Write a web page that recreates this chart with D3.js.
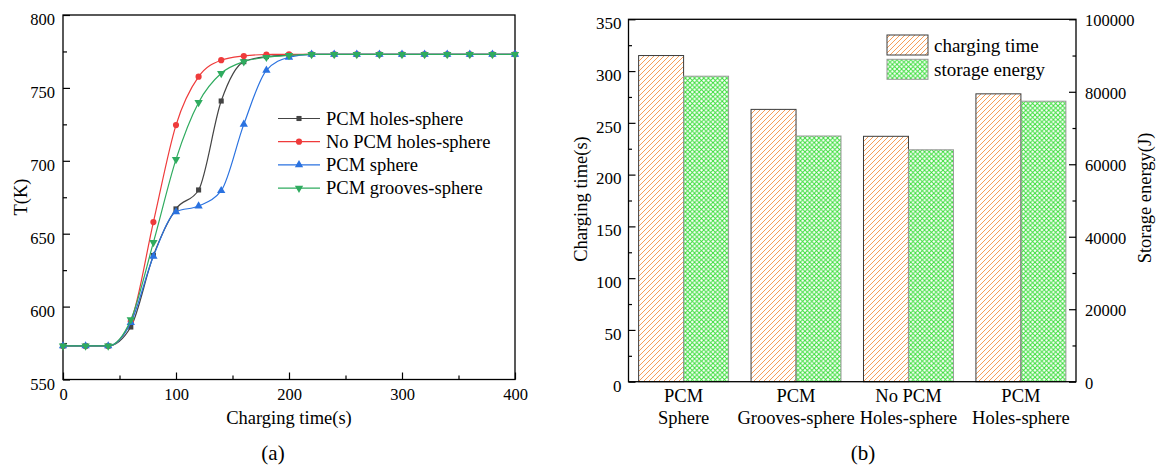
<!DOCTYPE html>
<html><head><meta charset="utf-8">
<script src="https://cdn.jsdelivr.net/npm/d3@7"></script>
<style>
body{margin:0;background:#fff}
svg{font-family:"Liberation Serif","Times New Roman",serif;display:block}
</style>
</head><body>
<svg id="c" width="1156" height="465"></svg>
<script>
// ---------- data: panel (a) ----------
const timeS = [0,20,40,60,80,100,120,140,160,180,200,220,240,260,280,300,320,340,360,380,400];
const pcmHolesSphere   = [573,573,573,586,635,667,680,741,768,771.5,772.5,773,773,773,773,773,773,773,773,773,773];
const noPcmHolesSphere = [573,573,573,590,658,724.5,757.7,769,771.9,772.9,773,773,773,773,773,773,773,773,773,773,773];
const pcmSphere        = [573,573,573,589,634.5,665,669,679.5,725,762,771,773,773,773,773,773,773,773,773,773,773];
const pcmGroovesSphere = [573,573,573,591,644,701,740,760,768,771,772.3,773,773,773,773,773,773,773,773,773,773];
const seriesNames = ["PCM holes-sphere","No PCM holes-sphere","PCM sphere","PCM grooves-sphere"];
const xTicksA = [0,100,200,300,400];
const xMinorA = [50,150,250,350];
const yTicksA = [550,600,650,700,750,800];
const yMinorA = [575,625,675,725,775];

// ---------- data: panel (b) ----------
const catLine1 = ["PCM","PCM","No PCM","PCM"];
const catLine2 = ["Sphere","Grooves-sphere","Holes-sphere","Holes-sphere"];
const chargingTime = [315,263,237,278];
const storageEnergy = [84300,67800,64000,77400];
const yTicksB = [0,50,100,150,200,250,300,350];
const yMinorB = [25,75,125,175,225,275,325];
const eTicksB = [0,20000,40000,60000,80000,100000];
const eMinorB = [10000,30000,50000,70000,90000];
const legendB = ["charging time","storage energy"];

const svg = d3.select("#c");
const defs = svg.append("defs");
defs.append("pattern").attr("id","hatch").attr("patternUnits","userSpaceOnUse")
  .attr("width",5).attr("height",5)
  .append("path").attr("d","M-1,1 l2,-2 M0,5 l5,-5 M4,6 l2,-2")
  .attr("stroke","#f59a50").attr("stroke-width",0.95);
defs.append("pattern").attr("id","cross").attr("patternUnits","userSpaceOnUse")
  .attr("width",4.6).attr("height",4.6)
  .append("path").attr("d","M0,0 L4.6,4.6 M4.6,0 L0,4.6")
  .attr("stroke","#36dc36").attr("stroke-width",0.95);

// ================= Panel (a) =================
const A = {l:63, r:515, t:15, b:379.5};
const xA = d3.scaleLinear([0,400],[A.l,A.r]);
const yA = d3.scaleLinear([550,800],[A.b,A.t]);
const gA = svg.append("g");

gA.append("g").attr("transform",`translate(0,${A.b})`)
  .call(d3.axisBottom(xA).tickValues(xMinorA).tickSizeInner(-4).tickSizeOuter(0).tickFormat(""))
  .call(g=>g.select(".domain").remove());
gA.append("g").attr("transform",`translate(${A.l},0)`)
  .call(d3.axisLeft(yA).tickValues(yMinorA).tickSizeInner(-4).tickSizeOuter(0).tickFormat(""))
  .call(g=>g.select(".domain").remove());
gA.append("g").attr("transform",`translate(0,${A.b})`)
  .call(d3.axisBottom(xA).tickValues(xTicksA).tickSizeInner(-7).tickSizeOuter(0).tickPadding(8))
  .call(g=>g.select(".domain").remove())
  .call(g=>g.selectAll("text").attr("font-size",16.5).attr("fill","#000").attr("font-family","Liberation Serif").attr("dy","0.75em"));
gA.append("g").attr("transform",`translate(${A.l},0)`)
  .call(d3.axisLeft(yA).tickValues(yTicksA).tickSizeInner(-7).tickSizeOuter(0).tickPadding(8))
  .call(g=>g.select(".domain").remove())
  .call(g=>g.selectAll("text").attr("font-size",16.5).attr("fill","#000").attr("font-family","Liberation Serif").attr("dy","0.6em"));
gA.selectAll(".tick line").attr("stroke","#000").attr("stroke-width",1.2);
gA.append("rect").attr("x",A.l).attr("y",A.t).attr("width",A.r-A.l).attr("height",A.b-A.t)
  .attr("fill","none").attr("stroke","#000").attr("stroke-width",1.3);

const seriesA = [
  {name:seriesNames[0], vals:pcmHolesSphere, color:"#444444", sym:d3.symbolSquare, size:26, rot:0},
  {name:seriesNames[1], vals:noPcmHolesSphere, color:"#ef3b3b", sym:d3.symbolCircle, size:30, rot:0},
  {name:seriesNames[2], vals:pcmSphere, color:"#2a72e0", sym:d3.symbolTriangle, size:30, rot:0},
  {name:seriesNames[3], vals:pcmGroovesSphere, color:"#2fab5f", sym:d3.symbolTriangle, size:30, rot:180}
];
const line = d3.line().x(d=>xA(d[0])).y(d=>yA(d[1])).curve(d3.curveMonotoneX);
seriesA.forEach(s=>{
  const pts = timeS.map((t,i)=>[t,s.vals[i]]);
  gA.append("path").datum(pts).attr("d",line).attr("fill","none")
    .attr("stroke",s.color).attr("stroke-width",1.2);
  gA.selectAll(null).data(pts).join("path")
    .attr("d",d3.symbol(s.sym,s.size))
    .attr("transform",d=>`translate(${xA(d[0])},${yA(d[1])}) rotate(${s.rot})`)
    .attr("fill",s.color);
});
seriesA.forEach((s,i)=>{
  const y = 118.5 + i*23.2;
  gA.append("line").attr("x1",278).attr("x2",320).attr("y1",y).attr("y2",y)
    .attr("stroke",s.color).attr("stroke-width",1.2);
  gA.append("path").attr("d",d3.symbol(s.sym,s.size)).attr("fill",s.color)
    .attr("transform",`translate(299,${y}) rotate(${s.rot})`);
  gA.append("text").attr("x",326).attr("y",y+6).attr("font-size",18.5).text(s.name);
});
gA.append("text").attr("x",(A.l+A.r)/2).attr("y",424).attr("text-anchor","middle")
  .attr("font-size",18.5).text("Charging time(s)");
gA.append("text").attr("transform","translate(21,197) rotate(-90)").attr("text-anchor","middle")
  .attr("dy","0.35em").attr("font-size",18.5).text("T(K)");
gA.append("text").attr("x",273).attr("y",460).attr("text-anchor","middle")
  .attr("font-size",21).text("(a)");

// ================= Panel (b) =================
const B = {l:628.5, r:1076, t:19.3, b:381.7};
const xB = d3.scaleBand(d3.range(catLine1.length),[B.l,B.r]).paddingInner(0.2).paddingOuter(0.09);
const sub = d3.scaleBand([0,1],[0,xB.bandwidth()]);
const yB = d3.scaleLinear([0,350],[B.b,B.t]);
const yE = d3.scaleLinear([0,100000],[B.b,B.t]);
const gB = svg.append("g");

gB.selectAll(".bt").data(chargingTime).join("rect")
  .attr("x",(d,i)=>xB(i)+sub(0)).attr("width",sub.bandwidth())
  .attr("y",d=>yB(d)).attr("height",d=>yB(0)-yB(d))
  .attr("fill","url(#hatch)").attr("stroke","#3c3c3c").attr("stroke-width",1);
gB.selectAll(".be").data(storageEnergy).join("rect")
  .attr("x",(d,i)=>xB(i)+sub(1)).attr("width",sub.bandwidth())
  .attr("y",d=>yE(d)).attr("height",d=>yE(0)-yE(d))
  .attr("fill","url(#cross)").attr("stroke","#999").attr("stroke-width",1);

gB.append("g").attr("transform",`translate(${B.l},0)`)
  .call(d3.axisLeft(yB).tickValues(yMinorB).tickSizeInner(-3.5).tickSizeOuter(0).tickFormat(""))
  .call(g=>g.select(".domain").remove());
gB.append("g").attr("transform",`translate(${B.l},0)`)
  .call(d3.axisLeft(yB).tickValues(yTicksB).tickSizeInner(-7).tickSizeOuter(0).tickPadding(7))
  .call(g=>g.select(".domain").remove())
  .call(g=>g.selectAll("text").attr("font-size",17).attr("fill","#000").attr("font-family","Liberation Serif").attr("dy","0.55em"));
gB.append("g").attr("transform",`translate(${B.r},0)`)
  .call(d3.axisRight(yE).tickValues(eMinorB).tickSizeInner(-3.5).tickSizeOuter(0).tickFormat(""))
  .call(g=>g.select(".domain").remove());
gB.append("g").attr("transform",`translate(${B.r},0)`)
  .call(d3.axisRight(yE).tickValues(eTicksB).tickSizeInner(-7).tickSizeOuter(0).tickPadding(9).tickFormat(d3.format("d")))
  .call(g=>g.select(".domain").remove())
  .call(g=>g.selectAll("text").attr("font-size",16.5).attr("fill","#000").attr("font-family","Liberation Serif").attr("dy","0.4em"));
gB.selectAll(".tick line").attr("stroke","#000").attr("stroke-width",1.2);
gB.append("rect").attr("x",B.l).attr("y",B.t).attr("width",B.r-B.l).attr("height",B.b-B.t)
  .attr("fill","none").attr("stroke","#000").attr("stroke-width",1.3);

catLine1.forEach((c,i)=>{
  const cx = xB(i)+xB.bandwidth()/2;
  const t = gB.append("text").attr("text-anchor","middle").attr("font-size",18.5);
  t.append("tspan").attr("x",cx).attr("y",401.5).text(c);
  t.append("tspan").attr("x",cx).attr("y",424).text(catLine2[i]);
});

const fills = ["url(#hatch)","url(#cross)"], strokes = ["#3c3c3c","#999"];
legendB.forEach((n,i)=>{
  const y = 35 + i*24.3;
  gB.append("rect").attr("x",887).attr("y",y).attr("width",41).attr("height",20)
    .attr("fill",fills[i]).attr("stroke",strokes[i]).attr("stroke-width",1);
  gB.append("text").attr("x",934).attr("y",y+16.5).attr("font-size",19).text(n);
});

gB.append("text").attr("transform","translate(581,199) rotate(-90)").attr("text-anchor","middle")
  .attr("dy","0.35em").attr("font-size",18.5).text("Charging time(s)");
gB.append("text").attr("transform","translate(1145,198) rotate(-90)").attr("text-anchor","middle")
  .attr("dy","0.35em").attr("font-size",18.5).text("Storage energy(J)");
gB.append("text").attr("x",863).attr("y",460).attr("text-anchor","middle")
  .attr("font-size",21).text("(b)");
</script>
</body></html>
